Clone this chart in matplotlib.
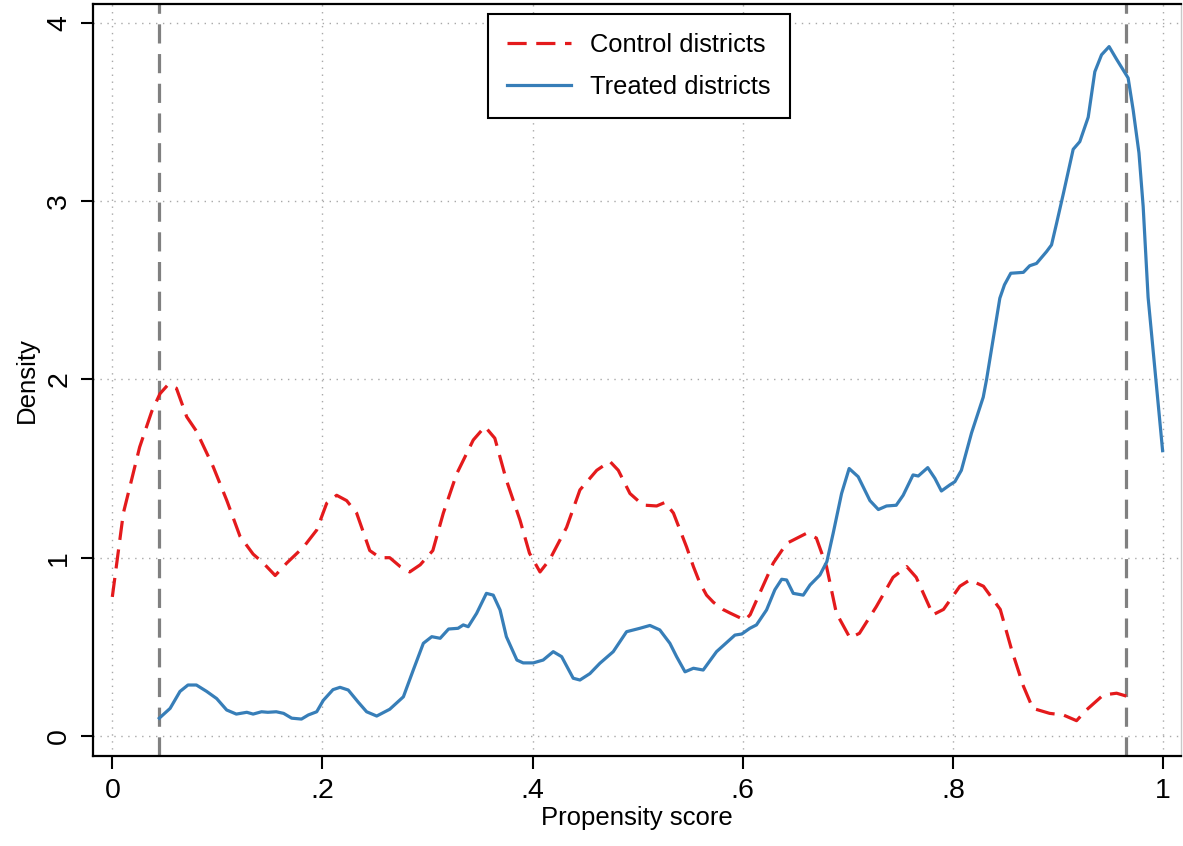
import matplotlib
matplotlib.use("Agg")
import matplotlib.pyplot as plt

plt.rcParams['font.family'] = ['Liberation Sans', 'DejaVu Sans']

# kernel density of propensity score, control districts
ctrl_x = [0.000, 0.0105, 0.0168, 0.026, 0.0375, 0.0454, 0.053, 0.061, 0.0708, 0.080,
          0.096, 0.109, 0.1215, 0.134, 0.1437, 0.155, 0.166, 0.182, 0.1945, 0.204,
          0.2135, 0.223, 0.2325, 0.245, 0.2547, 0.264, 0.274, 0.283, 0.293, 0.305,
          0.315, 0.3277, 0.3435, 0.3546, 0.364, 0.375, 0.388, 0.397, 0.407, 0.4163,
          0.4323, 0.445, 0.461, 0.4735, 0.4815, 0.4926, 0.505, 0.518, 0.526, 0.534,
          0.5465, 0.553, 0.559, 0.5655, 0.572, 0.581, 0.5877, 0.602, 0.607, 0.613,
          0.629, 0.6417, 0.6607, 0.670, 0.6797, 0.689, 0.702, 0.711, 0.727, 0.743,
          0.756, 0.765, 0.781, 0.791, 0.8066, 0.816, 0.829, 0.845, 0.856, 0.867,
          0.876, 0.892, 0.905, 0.9176, 0.927, 0.943, 0.9557, 0.965]
ctrl_y = [0.78, 1.25, 1.40, 1.62, 1.82, 1.92, 1.97, 1.95, 1.79, 1.71,
          1.51, 1.32, 1.12, 1.02, 0.97, 0.90, 0.97, 1.06, 1.155, 1.305,
          1.35, 1.32, 1.25, 1.04, 1.00, 1.00, 0.95, 0.92, 0.96, 1.04,
          1.25, 1.47, 1.66, 1.735, 1.67, 1.435, 1.21, 1.025, 0.92, 0.99,
          1.17, 1.38, 1.49, 1.54, 1.49, 1.36, 1.295, 1.29, 1.31, 1.25,
          1.06, 0.95, 0.86, 0.79, 0.75, 0.71, 0.69, 0.65, 0.68, 0.76,
          0.97, 1.08, 1.137, 1.11, 0.95, 0.69, 0.55, 0.576, 0.725, 0.89,
          0.95, 0.89, 0.68, 0.71, 0.84, 0.875, 0.84, 0.71, 0.48, 0.28,
          0.155, 0.127, 0.118, 0.086, 0.146, 0.23, 0.24, 0.224]

# treated districts
trt_x = [0.0447, 0.055, 0.0644, 0.072, 0.080, 0.0898, 0.0993, 0.1088, 0.118, 0.128,
         0.134, 0.142, 0.148, 0.156, 0.163, 0.1707, 0.180, 0.1865, 0.1945, 0.2008,
         0.210, 0.2167, 0.2245, 0.234, 0.242, 0.2516, 0.264, 0.277, 0.2864, 0.296,
         0.304, 0.312, 0.320, 0.329, 0.334, 0.3387, 0.3467, 0.356, 0.3625, 0.369,
         0.375, 0.385, 0.391, 0.4006, 0.410, 0.4196, 0.4276, 0.4386, 0.445, 0.4545,
         0.464, 0.4767, 0.4894, 0.502, 0.5116, 0.521, 0.5306, 0.537, 0.545, 0.553,
         0.5623, 0.575, 0.5925, 0.599, 0.6067, 0.613, 0.6226, 0.6305, 0.637, 0.6417,
         0.648, 0.6575, 0.664, 0.6734, 0.680, 0.686, 0.694, 0.7012, 0.7098, 0.721,
         0.729, 0.7368, 0.746, 0.7526, 0.762, 0.767, 0.776, 0.7828, 0.789, 0.797,
         0.8018, 0.808, 0.8177, 0.8288, 0.832, 0.8446, 0.849, 0.855, 0.867, 0.873,
         0.8795, 0.889, 0.8938, 0.8986, 0.905, 0.9144, 0.9207, 0.9287, 0.935, 0.9414,
         0.9486, 0.9557, 0.960, 0.9667, 0.9715, 0.977, 0.981, 0.9857, 0.9995]
trt_y = [0.10, 0.155, 0.25, 0.286, 0.286, 0.25, 0.21, 0.146, 0.123, 0.133,
         0.123, 0.136, 0.133, 0.136, 0.127, 0.10, 0.095, 0.118, 0.136, 0.20,
         0.26, 0.273, 0.258, 0.19, 0.136, 0.112, 0.15, 0.22, 0.37, 0.52,
         0.557, 0.548, 0.60, 0.604, 0.623, 0.613, 0.688, 0.80, 0.79, 0.707,
         0.557, 0.426, 0.41, 0.41, 0.426, 0.473, 0.445, 0.324, 0.314, 0.35,
         0.408, 0.473, 0.585, 0.604, 0.62, 0.595, 0.52, 0.445, 0.36, 0.38,
         0.37, 0.473, 0.566, 0.572, 0.604, 0.623, 0.707, 0.82, 0.879, 0.875,
         0.80, 0.79, 0.847, 0.903, 0.978, 1.137, 1.36, 1.50, 1.454, 1.32,
         1.27, 1.29, 1.294, 1.35, 1.464, 1.458, 1.505, 1.445, 1.374, 1.408,
         1.426, 1.49, 1.70, 1.90, 2.0, 2.455, 2.53, 2.595, 2.60, 2.637,
         2.65, 2.716, 2.754, 2.875, 3.04, 3.29, 3.333, 3.47, 3.725, 3.82,
         3.866, 3.795, 3.754, 3.69, 3.51, 3.27, 2.97, 2.46, 1.60]

# common support bounds
support = [0.0447, 0.965]

xticks = [0, 0.2, 0.4, 0.6, 0.8, 1]
xtick_labels = ["0", ".2", ".4", ".6", ".8", "1"]
yticks = [0, 1, 2, 3, 4]

fig = plt.figure(figsize=(11.83, 8.46), dpi=100)
ax = fig.add_axes([0.0786, 0.1064, 0.9197, 0.8889])

ax.plot(ctrl_x, ctrl_y, color="#e41a1c", lw=2.3, ls=(0, (6, 3)),
        solid_joinstyle="round", label="Control districts")
ax.plot(trt_x, trt_y, color="#377eb8", lw=2.3, solid_joinstyle="round",
        label="Treated districts")
for s in support:
    ax.axvline(s, color="#808080", lw=2.3, ls=(0, (6, 3.3)), zorder=1)

ax.set_xlim(-0.0184, 1.017)
ax.set_ylim(-0.112, 4.105)
ax.set_xticks(xticks)
ax.set_xticklabels(xtick_labels)
ax.set_yticks(yticks)
ax.grid(True, color="#a8a8a8", lw=1.0, ls=(0, (1, 4)))
ax.set_axisbelow(True)

for side in ["left", "bottom", "top", "right"]:
    ax.spines[side].set_linewidth(1.6)
ax.spines["right"].set_color("#c8c8c8")
ax.spines["right"].set_linewidth(1.0)

ax.tick_params(axis="both", direction="out", length=9, width=1.5, labelsize=20.5)
ax.tick_params(axis="y", pad=6)
ax.tick_params(axis="x", pad=7)
for lab in ax.get_yticklabels():
    lab.set_rotation(90)
    lab.set_va("center")

ax.set_xlabel("Propensity score", fontsize=18.5, labelpad=1)
ax.set_ylabel("Density", fontsize=18.5, labelpad=5)

leg = ax.legend(loc="upper left", bbox_to_anchor=(488 / 1183, 1 - 14 / 846),
                bbox_transform=fig.transFigure, borderaxespad=0, fontsize=18.4,
                frameon=True, fancybox=False, edgecolor="black", framealpha=1,
                handlelength=2.5, handletextpad=0.75, borderpad=0.75, labelspacing=0.7)
leg.get_frame().set_linewidth(1.5)

fig.savefig("out.png", dpi=100)
